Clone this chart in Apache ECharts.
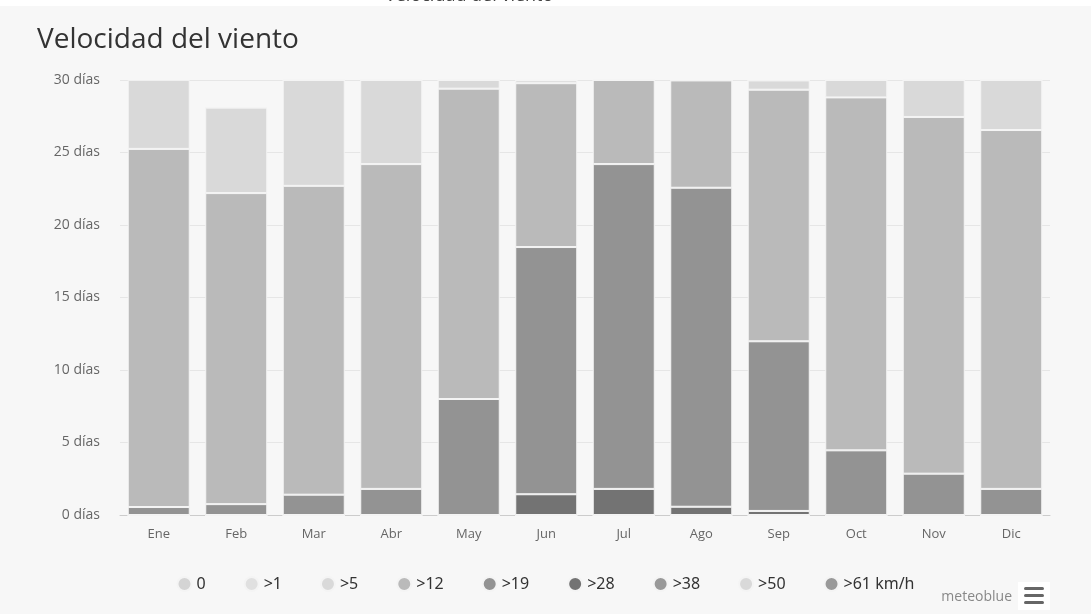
<!DOCTYPE html>
<html>
<head>
<meta charset="utf-8">
<script src="https://cdn.jsdelivr.net/npm/echarts@6/dist/echarts.min.js"></script>
<style>
html,body{margin:0;padding:0;background:#f7f7f7;}
#chart{width:1091px;height:614px;}
</style>
</head>
<body>
<div id="chart"></div>
<script>
const months = ['Ene','Feb','Mar','Abr','May','Jun','Jul','Ago','Sep','Oct','Nov','Dic'];
const seriesNames = ['0','>1','>5','>12','>19','>28','>38','>50','>61 km/h'];
const seriesColors = ['#d4d4d4','#e0e0e0','#d9d9d9','#bababa','#939393','#737373','#999999','#d9d9d9','#999999'];
const yTicks = [0,5,10,15,20,25,30];

const v0    = [0,0,0,0,0,0,0,0,0,0,0,0];
const v1    = [0,0,0,0,0,0,0,0,0,0,0,0];
const v5    = [4.76,5.9,7.3,5.8,0.6,0.2,0,0,0.64,1.2,2.55,3.45];
const v12   = [24.7,21.45,21.3,22.4,21.4,11.3,5.8,7.4,17.35,24.34,24.6,24.75];
const v19   = [0.55,0.75,1.4,1.8,8.0,17.05,22.4,22.0,11.7,4.46,2.85,1.8];
const v28   = [0,0,0,0,0,1.43,1.8,0.57,0.28,0,0,0];
const v38   = [0,0,0,0,0,0,0,0,0,0,0,0];
const v50   = [0,0,0,0,0,0,0,0,0,0,0,0];
const v61   = [0,0,0,0,0,0,0,0,0,0,0,0];

const valuesByName = {'0':v0,'>1':v1,'>5':v5,'>12':v12,'>19':v19,'>28':v28,'>38':v38,'>50':v50,'>61 km/h':v61};
// stacking order bottom -> top: highest speeds at bottom
const stackOrder = ['>61 km/h','>50','>38','>28','>19','>12','>5','>1','0'];

const chart = echarts.init(document.getElementById('chart'));
const series = stackOrder.map(n => {
  const idx = seriesNames.indexOf(n);
  return {
    name: n,
    type: 'bar',
    stack: 'days',
    barCategoryGap: '20%',
    data: valuesByName[n],
    itemStyle: {color: seriesColors[idx], borderColor: '#f4f4f4', borderWidth: 1},
    emphasis: {disabled: true}
  };
});

chart.setOption({
  backgroundColor: '#f7f7f7',
  animation: false,
  textStyle: {fontFamily: 'Open Sans'},
  title: {
    text: 'Velocidad del viento',
    left: 32, top: 21,
    textStyle: {fontSize: 28, fontWeight: 'normal', color: '#333', fontFamily: 'Open Sans'}
  },
  graphic: [
    {type: 'rect', left: 0, top: 0, shape: {width: 1091, height: 6}, style: {fill: '#ffffff'}, z: 10},
    {type: 'text', x: 385, y: -13, style: {text: 'Velocidad del viento', fontSize: 18, fill: '#444', fontFamily: 'Open Sans'}, z: 11},
    {type: 'text', right: 79, top: 590, style: {text: 'meteoblue', fontSize: 14, fill: '#888', fontFamily: 'Open Sans'}},
    {type: 'rect', left: 1018, top: 582, shape: {width: 32, height: 28}, style: {fill: '#ffffff'}},
    {type: 'rect', left: 1024, top: 587, shape: {width: 20, height: 3, r: 1.5}, style: {fill: '#666'}},
    {type: 'rect', left: 1024, top: 594, shape: {width: 20, height: 3, r: 1.5}, style: {fill: '#666'}},
    {type: 'rect', left: 1024, top: 601, shape: {width: 20, height: 3, r: 1.5}, style: {fill: '#666'}}
  ],
  legend: {
    data: seriesNames.map((n, i) => ({name: n, itemStyle: {color: seriesColors[i]}})),
    left: 'center', top: 571,
    icon: 'circle', itemWidth: 14, itemHeight: 14, itemGap: 38,
    selectedMode: false,
    textStyle: {fontSize: 16, color: '#333', fontFamily: 'Noto Sans'}
  },
  grid: {left: 120, right: 41, top: 80, bottom: 99},
  xAxis: {
    type: 'category',
    data: months,
    axisLine: {lineStyle: {color: '#cccccc'}},
    axisTick: {show: false},
    axisLabel: {color: '#666', fontSize: 13, margin: 13}
  },
  yAxis: {
    type: 'value',
    min: 0, max: 30, interval: 5,
    axisLine: {show: false},
    axisTick: {show: false},
    splitLine: {lineStyle: {color: '#e6e6e6'}},
    axisLabel: {color: '#666', fontSize: 14, margin: 20,
      formatter: v => yTicks.includes(v) ? v + ' días' : ''}
  },
  series: series
});
</script>
</body>
</html>
